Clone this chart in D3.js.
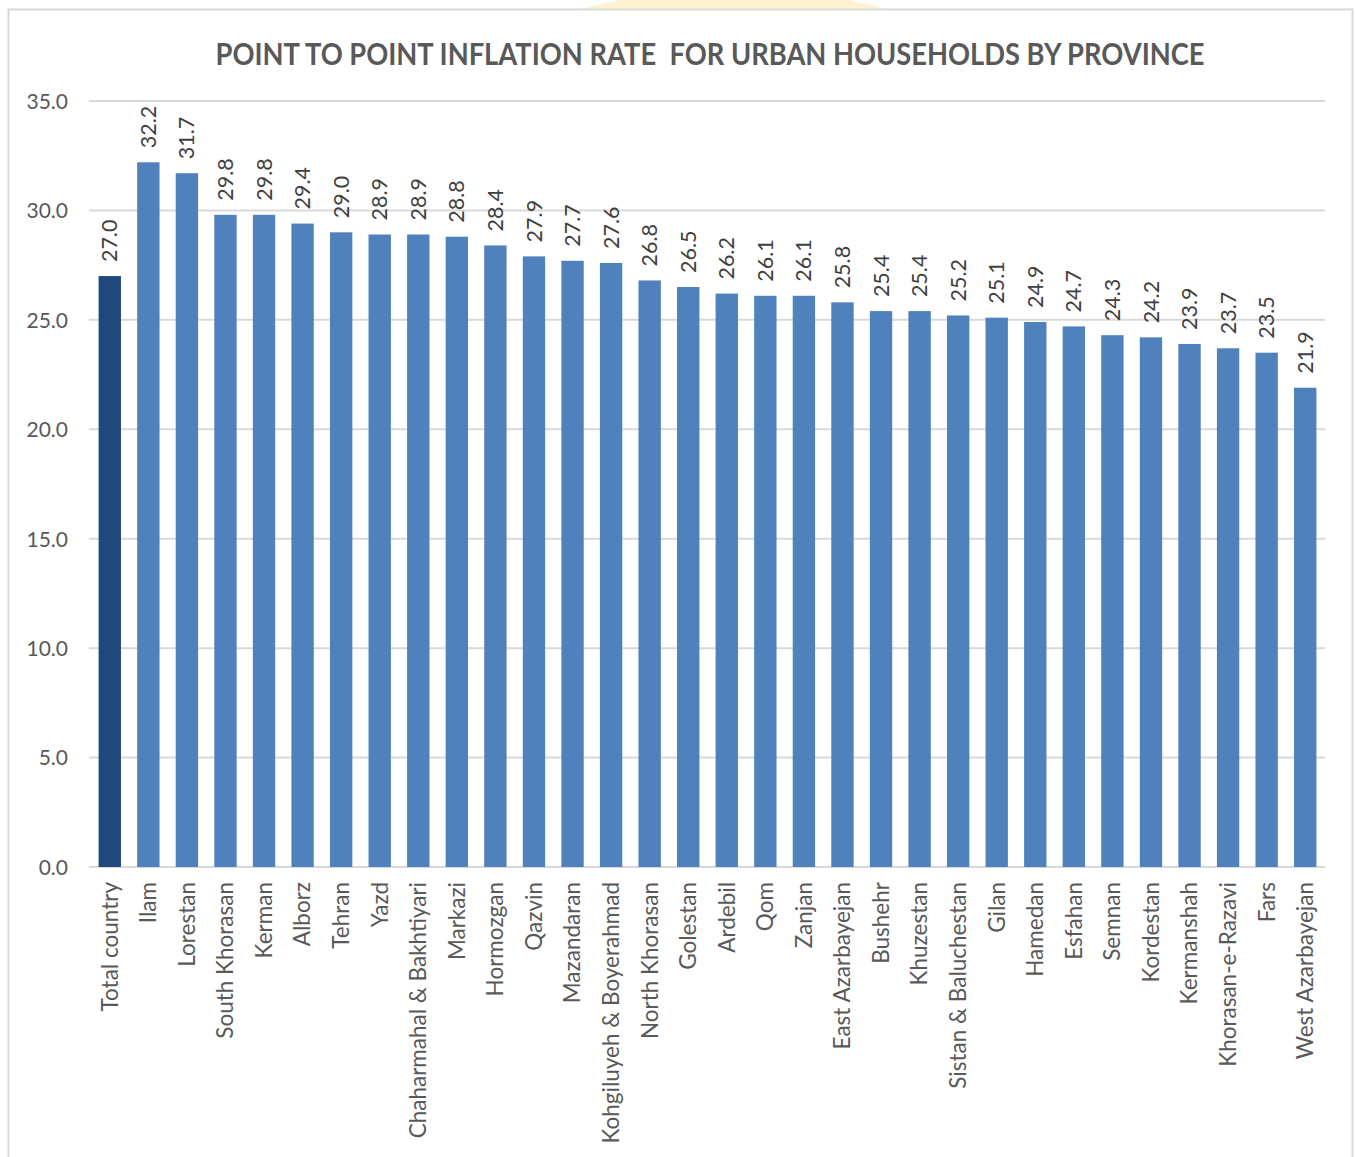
<!DOCTYPE html>
<html><head><meta charset="utf-8">
<script src="https://cdn.jsdelivr.net/npm/d3@7"></script>
<style>body{margin:0;background:#fff;}svg{display:block;}</style>
</head><body>
<script>
const categories = ["Total country","Ilam","Lorestan","South Khorasan","Kerman","Alborz","Tehran","Yazd","Chaharmahal & Bakhtiyari","Markazi","Hormozgan","Qazvin","Mazandaran","Kohgiluyeh & Boyerahmad","North Khorasan","Golestan","Ardebil","Qom","Zanjan","East Azarbayejan","Bushehr","Khuzestan","Sistan & Baluchestan","Gilan","Hamedan","Esfahan","Semnan","Kordestan","Kermanshah","Khorasan-e-Razavi","Fars","West Azarbayejan"];
const values = [27.0,32.2,31.7,29.8,29.8,29.4,29.0,28.9,28.9,28.8,28.4,27.9,27.7,27.6,26.8,26.5,26.2,26.1,26.1,25.8,25.4,25.4,25.2,25.1,24.9,24.7,24.3,24.2,23.9,23.7,23.5,21.9];
const yTicks = [0,5,10,15,20,25,30,35];
const title = "POINT TO POINT INFLATION RATE  FOR URBAN HOUSEHOLDS BY PROVINCE";

const W = 1356, H = 1157;
const svg = d3.select("body").append("svg").attr("width", W).attr("height", H);
const font = "Lato, 'Open Sans', sans-serif";

// faint watermark circle behind the chart
svg.append("circle").attr("cx", 734).attr("cy", 587).attr("r", 598)
  .attr("fill", "#fff2d3");

// chart area
svg.append("rect").attr("x", 8.5).attr("y", 9.5).attr("width", 1344).attr("height", 1200)
  .attr("fill", "#ffffff").attr("stroke", "#d9d9d9").attr("stroke-width", 2);

const x = d3.scaleBand().domain(categories).range([90.5, 1324.5]).paddingInner(0.42).paddingOuter(0.21);
const y = d3.scaleLinear().domain([0, 35]).range([867, 101]);

// gridlines
svg.append("g").selectAll("line").data(yTicks).join("line")
  .attr("x1", 89).attr("x2", 1325).attr("y1", d => y(d)).attr("y2", d => y(d))
  .attr("stroke", "#d9d9d9").attr("stroke-width", 2);

// y axis labels
const yAxis = d3.axisLeft(y).tickValues(yTicks).tickFormat(d3.format(".1f")).tickSize(0).tickPadding(0);
const ya = svg.append("g").attr("transform", "translate(68,0)").call(yAxis);
ya.select(".domain").remove();
ya.selectAll("text").attr("font-family", font).attr("font-size", 21).attr("fill", "#595959").attr("dy", "0.35em");

// bars
svg.append("g").selectAll("rect").data(values).join("rect")
  .attr("x", (d, i) => x(categories[i]))
  .attr("width", x.bandwidth())
  .attr("y", d => y(d))
  .attr("height", d => y(0) - y(d))
  .attr("fill", (d, i) => i === 0 ? "#1f497d" : "#4f81bd");

// value labels
svg.append("g").selectAll("text").data(values).join("text")
  .attr("transform", (d, i) => `translate(${x(categories[i]) + x.bandwidth() / 2},${y(d) - 14}) rotate(-90)`)
  .attr("dy", "0.35em")
  .attr("text-anchor", "start")
  .attr("font-family", font).attr("font-size", 21.5).attr("fill", "#404040")
  .text(d => d3.format(".1f")(d));

// category labels
svg.append("g").selectAll("text").data(categories).join("text")
  .attr("transform", d => `translate(${x(d) + x.bandwidth() / 2},882) rotate(-90)`)
  .attr("dy", "0.35em")
  .attr("text-anchor", "end")
  .attr("font-family", font).attr("font-size", 22.5).attr("fill", "#595959")
  .text(d => d);

// title
svg.append("text").attr("x", 710).attr("y", 65).attr("text-anchor", "middle")
  .attr("font-family", font).attr("font-size", 30).attr("font-weight", "bold").attr("fill", "#595959")
  .style("white-space", "pre")
  .attr("textLength", 989).attr("lengthAdjust", "spacingAndGlyphs")
  .text(title);
</script>
</body></html>
